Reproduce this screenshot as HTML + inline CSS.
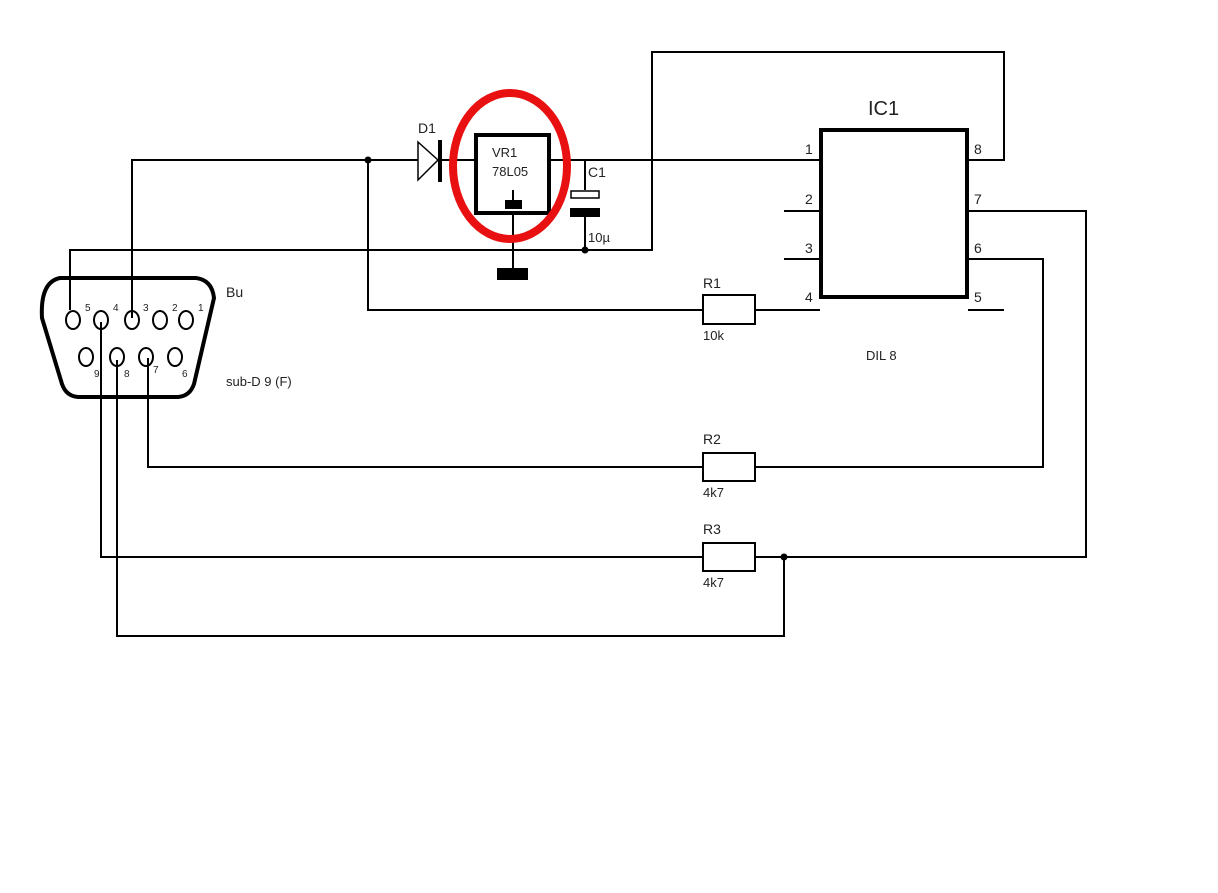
<!DOCTYPE html>
<html><head><style>body{margin:0;background:#fff}svg{display:block}text{font-family:"Liberation Sans",sans-serif;fill:#222}</style></head>
<body>
<svg width="1218" height="893" viewBox="0 0 1218 893" xmlns="http://www.w3.org/2000/svg">
<g stroke="#000" stroke-width="2" fill="none">
<!-- top rail -->
<polyline points="132,318 132,160 418,160"/>
<line x1="440" y1="160" x2="475" y2="160"/>
<line x1="550" y1="160" x2="820" y2="160"/>
<!-- ground rail -->
<polyline points="70,310 70,250 652,250 652,52 1004,52 1004,160 968,160"/>
<!-- R1 path -->
<polyline points="368,160 368,310 702,310"/>
<line x1="755" y1="310" x2="820" y2="310"/>
<!-- IC pins -->
<line x1="784" y1="211" x2="820" y2="211"/>
<line x1="784" y1="259" x2="820" y2="259"/>
<line x1="968" y1="310" x2="1004" y2="310"/>
<polyline points="968,211 1086,211 1086,557 755,557"/>
<polyline points="968,259 1043,259 1043,467 755,467"/>
<!-- R2, R3 -->
<polyline points="148,358 148,467 702,467"/>
<polyline points="101,322 101,557 702,557"/>
<polyline points="117,360 117,636 784,636 784,557"/>
<!-- regulator -->
<line x1="513" y1="214" x2="513" y2="268"/>
<line x1="513" y1="190" x2="513" y2="200"/>
<!-- C1 -->
<line x1="585" y1="160" x2="585" y2="190"/>
<line x1="585" y1="216" x2="585" y2="250"/>
</g>
<!-- diode -->
<polygon points="418,142 438,160 418,180" fill="none" stroke="#000" stroke-width="1.5"/>
<rect x="438" y="140" width="4" height="42" fill="#000"/>
<!-- VR1 -->
<rect x="476" y="135" width="73" height="78" fill="none" stroke="#000" stroke-width="4"/>
<rect x="505" y="200" width="17" height="9" fill="#000"/>
<rect x="497" y="268" width="31" height="12" fill="#000"/>
<text x="492" y="157" font-size="13">VR1</text>
<text x="492" y="176" font-size="13">78L05</text>
<ellipse cx="510" cy="166" rx="57" ry="73" fill="none" stroke="#e81010" stroke-width="8"/>
<text x="418" y="133" font-size="14">D1</text>
<!-- C1 -->
<rect x="571" y="191" width="28" height="7" fill="#fff" stroke="#000" stroke-width="1.5"/>
<rect x="570" y="208" width="30" height="9" fill="#000"/>
<text x="588" y="177" font-size="14">C1</text>
<text x="588" y="242" font-size="13">10µ</text>
<!-- junctions -->
<g fill="#000"><circle cx="368" cy="160" r="3.5"/><circle cx="585" cy="250" r="3.5"/><circle cx="784" cy="557" r="3.5"/></g>
<!-- IC -->
<rect x="821" y="130" width="146" height="167" fill="none" stroke="#000" stroke-width="4"/>
<text x="868" y="115" font-size="20">IC1</text>
<text x="866" y="360" font-size="13">DIL 8</text>
<g font-size="14"><text x="805" y="154">1</text><text x="805" y="204">2</text><text x="805" y="253">3</text><text x="805" y="302">4</text>
<text x="974" y="154">8</text><text x="974" y="204">7</text><text x="974" y="253">6</text><text x="974" y="302">5</text></g>
<!-- resistors -->
<g fill="#fff" stroke="#000" stroke-width="2"><rect x="703" y="295" width="52" height="29"/><rect x="703" y="453" width="52" height="28"/><rect x="703" y="543" width="52" height="28"/></g>
<g font-size="14"><text x="703" y="288">R1</text><text x="703" y="444">R2</text><text x="703" y="534">R3</text></g>
<g font-size="13"><text x="703" y="340">10k</text><text x="703" y="497">4k7</text><text x="703" y="587">4k7</text></g>
<!-- connector -->
<path d="M60,278 L196,278 Q212,280 214,298 L194,384 Q190,396 178,397 L78,397 Q66,396 62,384 L42,318 Q40,282 60,278 Z" fill="none" stroke="#000" stroke-width="4"/>
<g fill="none" stroke="#000" stroke-width="2">
<ellipse cx="73" cy="320" rx="7" ry="9"/><ellipse cx="101" cy="320" rx="7" ry="9"/><ellipse cx="132" cy="320" rx="7" ry="9"/><ellipse cx="160" cy="320" rx="7" ry="9"/><ellipse cx="186" cy="320" rx="7" ry="9"/>
<ellipse cx="86" cy="357" rx="7" ry="9"/><ellipse cx="117" cy="357" rx="7" ry="9"/><ellipse cx="146" cy="357" rx="7" ry="9"/><ellipse cx="175" cy="357" rx="7" ry="9"/>
</g>
<g font-size="10"><text x="85" y="311">5</text><text x="113" y="311">4</text><text x="143" y="311">3</text><text x="172" y="311">2</text><text x="198" y="311">1</text>
<text x="94" y="377">9</text><text x="124" y="377">8</text><text x="153" y="373">7</text><text x="182" y="377">6</text></g>
<text x="226" y="297" font-size="14">Bu</text>
<text x="226" y="386" font-size="13">sub-D 9 (F)</text>
</svg>
</body></html>
